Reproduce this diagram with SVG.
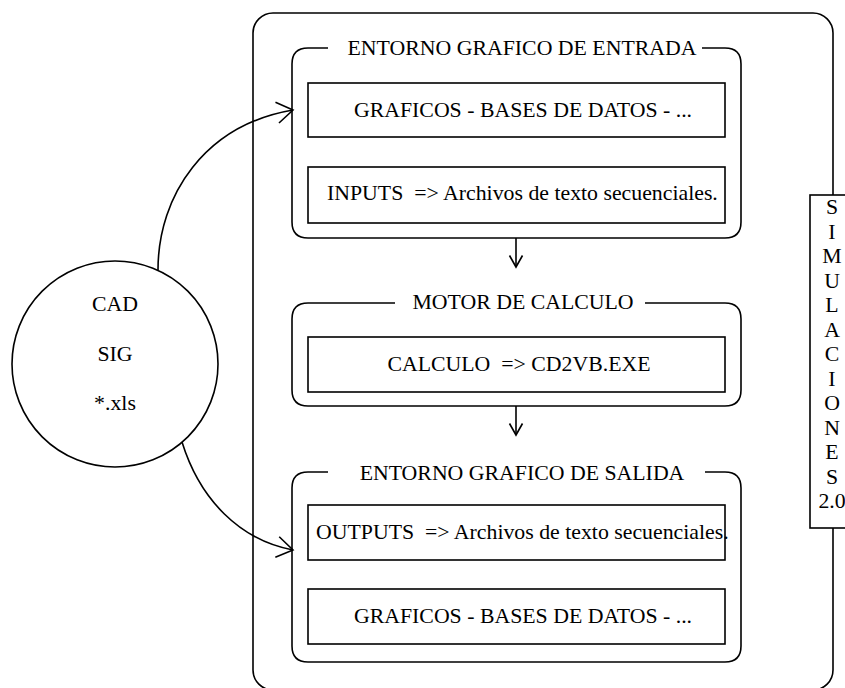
<svg xmlns="http://www.w3.org/2000/svg" width="845" height="688" viewBox="0 0 845 688">
<style>
.ln{fill:none;stroke:#000;stroke-width:1.6}
.bx{fill:#fff;stroke:#000;stroke-width:1.6}
text{font-family:"Liberation Serif","Times New Roman",serif;font-size:21.8px;fill:#000}
.m{text-anchor:middle}
</style>
<defs>
<marker id="ahS" markerUnits="userSpaceOnUse" markerWidth="30" markerHeight="30" viewBox="-20 -15 30 30" refX="0" refY="0" orient="auto" overflow="visible"><path d="M-11.5,-6.5 L0,0 L-11.5,6.5" fill="none" stroke="#000" stroke-width="1.6"/></marker>
<marker id="ahL" markerUnits="userSpaceOnUse" markerWidth="40" markerHeight="40" viewBox="-25 -20 40 40" refX="0" refY="0" orient="auto" overflow="visible"><path d="M-16,-10.5 L0,0 L-16,10.5" fill="none" stroke="#000" stroke-width="1.6"/></marker>
</defs>
<rect width="845" height="688" fill="#fff"/>

<g id="outer">
<rect class="ln" x="253" y="13" width="580" height="677" rx="20" ry="20"/>
</g>

<g id="simulaciones">
<rect class="bx" x="810" y="195" width="50" height="333"/>
<text class="m" x="832" y="214">S</text>
<text class="m" x="832" y="238.5">I</text>
<text class="m" x="832" y="263">M</text>
<text class="m" x="832" y="287.5">U</text>
<text class="m" x="832" y="312">L</text>
<text class="m" x="832" y="336.5">A</text>
<text class="m" x="832" y="361">C</text>
<text class="m" x="832" y="385.5">I</text>
<text class="m" x="832" y="410">O</text>
<text class="m" x="832" y="434.5">N</text>
<text class="m" x="832" y="459">E</text>
<text class="m" x="832" y="483.5">S</text>
<text class="m" x="832" y="508">2.0</text>
</g>

<g id="cad">
<circle class="ln" cx="115" cy="364" r="103"/>
<text class="m" x="115" y="311">CAD</text>
<text class="m" x="115" y="361">SIG</text>
<text class="m" x="115" y="410">*.xls</text>
</g>

<g id="entrada">
<path class="ln" d="M328,48 L308,48 Q292,48 292,64 L292,222 Q292,238 308,238 L725,238 Q741,238 741,222 L741,64 Q741,48 725,48 L702,48"/>
<text class="m" x="522" y="55">ENTORNO GRAFICO DE ENTRADA</text>
<rect class="ln" x="308" y="83" width="417" height="54"/>
<text class="m" x="523" y="117">GRAFICOS - BASES DE DATOS - ...</text>
<rect class="ln" x="308" y="167" width="417" height="56"/>
<text x="327" y="200" xml:space="preserve">INPUTS  =&gt; Archivos de texto secuenciales.</text>
</g>

<g id="motor">
<path class="ln" d="M395,303 L308,303 Q292,303 292,319 L292,390 Q292,406 308,406 L725,406 Q741,406 741,390 L741,319 Q741,303 725,303 L645,303"/>
<text class="m" x="523" y="309">MOTOR DE CALCULO</text>
<rect class="ln" x="308" y="337" width="417" height="55"/>
<text class="m" x="519" y="371" xml:space="preserve">CALCULO  =&gt; CD2VB.EXE</text>
</g>

<g id="salida">
<path class="ln" d="M328,472 L308,472 Q292,472 292,488 L292,646 Q292,662 308,662 L725,662 Q741,662 741,646 L741,488 Q741,472 725,472 L705,472"/>
<text class="m" x="522" y="480">ENTORNO GRAFICO DE SALIDA</text>
<rect class="ln" x="308" y="505" width="417" height="55"/>
<text x="316" y="539" xml:space="preserve">OUTPUTS  =&gt; Archivos de texto secuenciales.</text>
<rect class="ln" x="308" y="589" width="417" height="55"/>
<text class="m" x="523" y="623">GRAFICOS - BASES DE DATOS - ...</text>
</g>

<g id="connectors">
<path class="ln" d="M158,270 C158,195 205,125 293,110" marker-end="url(#ahL)"/>
<path class="ln" d="M182,442 C200,500 240,540 293,550" marker-end="url(#ahL)"/>
<line class="ln" x1="516" y1="238" x2="516" y2="267" marker-end="url(#ahS)"/>
<line class="ln" x1="516" y1="406" x2="516" y2="435" marker-end="url(#ahS)"/>
</g>
</svg>
